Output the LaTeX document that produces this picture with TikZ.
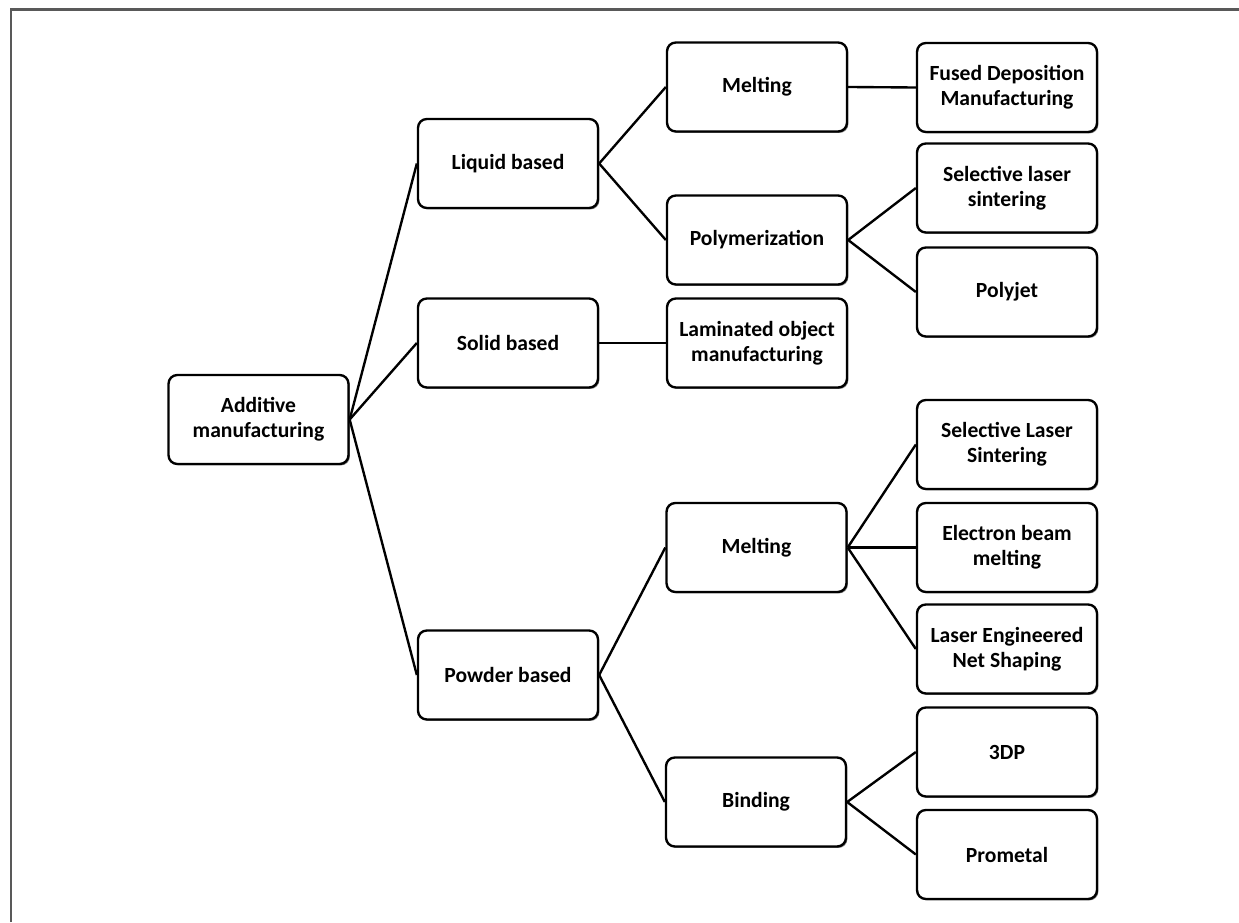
\documentclass[tikz,border=0pt]{standalone}
\usepackage{fontspec}
\setmainfont{Carlito}
\usetikzlibrary{shadows}
\begin{document}
\begin{tikzpicture}[x=0.02cm,y=-0.02cm,
  box/.style={draw=black, line width=1.35pt, rounded corners=5pt, fill=white,
    minimum width=3.6cm, minimum height=1.78cm, inner sep=0pt, align=center,
    font=\fontsize{12.3}{14.4}\selectfont\bfseries,
    drop shadow={shadow xshift=0.8pt, shadow yshift=-0.8pt, fill=black!60, opacity=0.8}},
  link/.style={line width=1.35pt, black},
  frameline/.style={line width=1.3pt, black!65}]
\useasboundingbox (0,0) rectangle (1239,922);
\draw[frameline] (11,922) -- (11,9.5) -- (1239,9.5);
\node[box] (add) at (258.5,419.5) {Additive\\manufacturing};
\node[box] (liq) at (508,163.5) {Liquid based};
\node[box] (sol) at (508,343) {Solid based};
\node[box] (pow) at (508,675) {Powder based};
\node[box] (melt1) at (757,87) {Melting};
\node[box] (poly) at (757,240) {Polymerization};
\node[box] (lam) at (757,343) {Laminated object\\manufacturing};
\node[box] (melt2) at (756.5,547.5) {Melting};
\node[box] (bind) at (756,802) {Binding};
\node[box] (fdm) at (1007,87.5) {Fused Deposition\\Manufacturing};
\node[box] (sls1) at (1007,188) {Selective laser\\sintering};
\node[box] (pj) at (1007,292) {Polyjet};
\node[box] (sls2) at (1007,444.5) {Selective Laser\\Sintering};
\node[box] (ebm) at (1007,547.5) {Electron beam\\melting};
\node[box] (lens) at (1007,649) {Laser Engineered\\Net Shaping};
\node[box] (tdp) at (1007,752) {3DP};
\node[box] (prom) at (1007,854.5) {Prometal};
\draw[link] (add.east) -- (liq.west);
\draw[link] (add.east) -- (sol.west);
\draw[link] (add.east) -- (pow.west);
\draw[link] (liq.east) -- (melt1.west);
\draw[link] (liq.east) -- (poly.west);
\draw[link] (sol.east) -- (lam.west);
\draw[link] (pow.east) -- (melt2.west);
\draw[link] (pow.east) -- (bind.west);
\draw[link] (melt1.east) -- (fdm.west);
\draw[link] (poly.east) -- (sls1.west);
\draw[link] (poly.east) -- (pj.west);
\draw[link] (melt2.east) -- (sls2.west);
\draw[link] (melt2.east) -- (ebm.west);
\draw[link] (melt2.east) -- (lens.west);
\draw[link] (bind.east) -- (tdp.west);
\draw[link] (bind.east) -- (prom.west);
\end{tikzpicture}
\end{document}
